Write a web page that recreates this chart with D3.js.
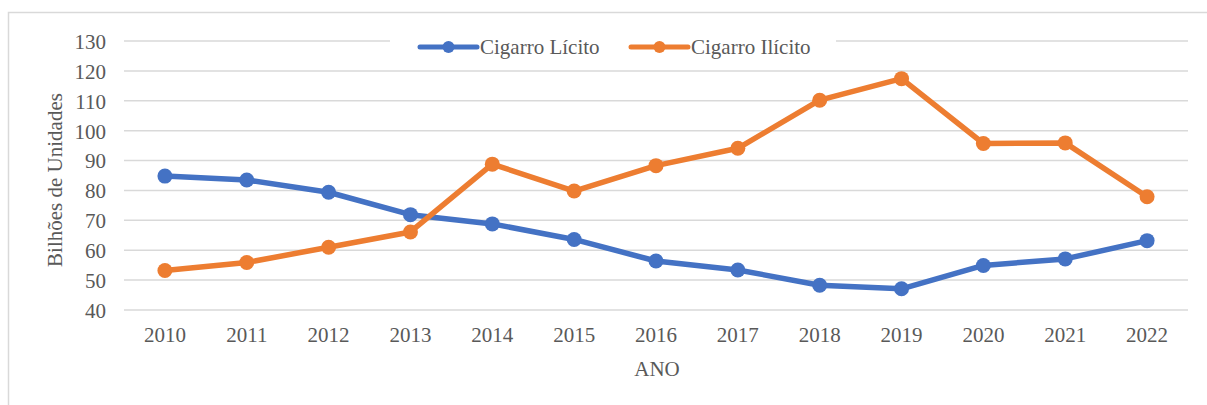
<!doctype html>
<html lang='pt'>
<head>
    <meta charset='UTF-8'>
    <title>Cigarro Lícito x Ilícito</title>
    <style>
        html, body {
            margin: 0;
            background: #fff;
        }
        svg text {
            font-family: "Liberation Serif", "Times New Roman", serif;
            fill: #595959;
        }
    </style>
</head>
<body>
    <script src='https://cdn.jsdelivr.net/npm/d3@7'></script>
    <div class='chart'></div>
    <script>
        // data
        const years = ['2010', '2011', '2012', '2013', '2014', '2015', '2016',
            '2017', '2018', '2019', '2020', '2021', '2022'];
        const licito = [84.8, 83.5, 79.4, 71.9, 68.8, 63.6, 56.4, 53.4, 48.3, 47.1, 54.9, 57.1, 63.2];
        const ilicito = [53.2, 55.9, 61.0, 66.1, 88.8, 79.8, 88.3, 94.1, 110.2, 117.4, 95.7, 95.9, 77.9];
        const yTicks = [40, 50, 60, 70, 80, 90, 100, 110, 120, 130];
        const seriesNames = ['Cigarro Lícito', 'Cigarro Ilícito'];

        const width = 1207, height = 405;
        const colors = ['#4472c4', '#ed7d31'];
        const fontSize = '21px';

        const svg = d3.select('.chart')
            .append('svg')
            .attr('width', width)
            .attr('height', height)
            .style('display', 'block');

        // outer chart frame
        svg.append('rect')
            .attr('x', 8.5).attr('y', 12.5)
            .attr('width', 1220).attr('height', 420)
            .attr('fill', 'none')
            .attr('stroke', '#d9d9d9')
            .attr('stroke-width', 1.5);

        const x = d3.scaleBand()
            .domain(years)
            .range([124, 1188]);

        const y = d3.scaleLinear()
            .domain([40, 130])
            .range([310, 41]);

        // gridlines
        svg.append('g')
            .selectAll('line')
            .data(yTicks)
            .join('line')
            .attr('x1', 124).attr('x2', 1188)
            .attr('y1', (d) => y(d)).attr('y2', (d) => y(d))
            .attr('stroke', '#d9d9d9')
            .attr('stroke-width', 1.5);

        // y axis labels
        const yAxis = svg.append('g')
            .attr('transform', 'translate(112,0)')
            .call(d3.axisLeft(y).tickValues(yTicks).tickSize(0).tickPadding(6));
        yAxis.select('.domain').remove();
        yAxis.selectAll('text')
            .style('font-size', fontSize)
            .attr('dy', '0.35em');

        // x axis labels
        const xAxis = svg.append('g')
            .attr('transform', 'translate(0,321)')
            .call(d3.axisBottom(x).tickSize(0).tickPadding(6));
        xAxis.select('.domain').remove();
        xAxis.selectAll('text')
            .style('font-size', fontSize)
            .attr('dy', '0.71em');

        // axis titles
        svg.append('text')
            .attr('x', 657).attr('y', 376)
            .attr('text-anchor', 'middle')
            .style('font-size', fontSize)
            .text('ANO');

        svg.append('text')
            .attr('transform', 'translate(62,180) rotate(-90)')
            .attr('text-anchor', 'middle')
            .style('font-size', fontSize)
            .text('Bilhões de Unidades');

        // lines + markers
        const line = d3.line()
            .x((d, i) => x(years[i]) + x.bandwidth() / 2)
            .y((d) => y(d));

        [licito, ilicito].forEach((values, s) => {
            const g = svg.append('g');
            g.append('path')
                .datum(values)
                .attr('d', line)
                .attr('fill', 'none')
                .attr('stroke', colors[s])
                .attr('stroke-width', 5.5)
                .attr('stroke-linejoin', 'round');
            g.selectAll('circle')
                .data(values)
                .join('circle')
                .attr('cx', (d, i) => x(years[i]) + x.bandwidth() / 2)
                .attr('cy', (d) => y(d))
                .attr('r', 7.5)
                .attr('fill', colors[s]);
        });

        // legend (white box over the top gridline)
        const legend = svg.append('g');
        legend.append('rect')
            .attr('x', 390).attr('y', 30)
            .attr('width', 446).attr('height', 28)
            .attr('fill', '#fff');

        const legendItems = [
            {x: 420, name: seriesNames[0], color: colors[0]},
            {x: 631, name: seriesNames[1], color: colors[1]}
        ];
        legendItems.forEach((item) => {
            legend.append('line')
                .attr('x1', item.x).attr('x2', item.x + 57)
                .attr('y1', 47).attr('y2', 47)
                .attr('stroke', item.color)
                .attr('stroke-width', 5)
                .attr('stroke-linecap', 'round');
            legend.append('circle')
                .attr('cx', item.x + 28.5).attr('cy', 47)
                .attr('r', 6)
                .attr('fill', item.color);
            legend.append('text')
                .attr('x', item.x + 60).attr('y', 54)
                .style('font-size', fontSize)
                .text(item.name);
        });
    </script>
</body>
</html>
